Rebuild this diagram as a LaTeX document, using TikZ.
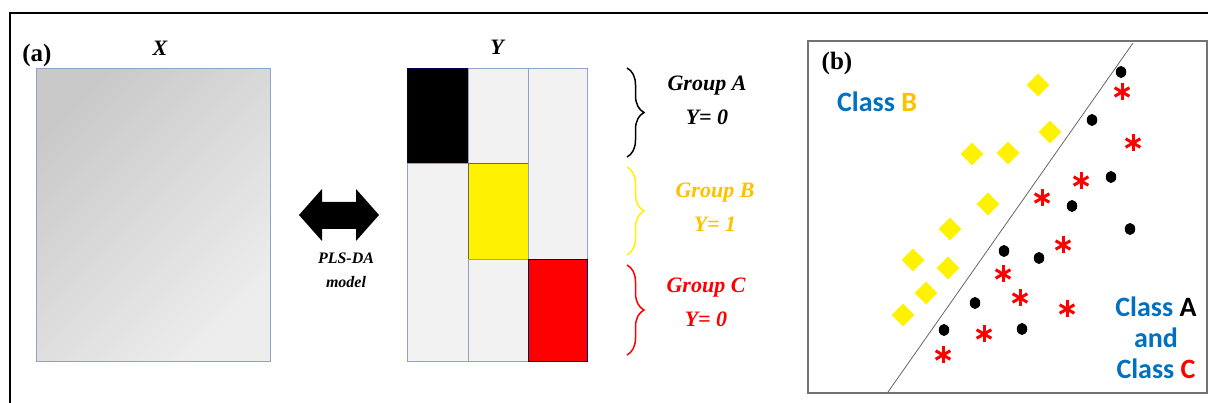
\documentclass[tikz,border=0pt]{standalone}
\usepackage{fontspec}
\setmainfont{Liberation Serif}
\newfontfamily\classfont{Carlito}
\usepackage{tikz}
\usetikzlibrary{positioning, calc, shapes.geometric, decorations.pathreplacing}
\usepackage{xcolor}
\definecolor{cellgray}{HTML}{F2F2F2}
\definecolor{cellline}{HTML}{8EA2CC}
\definecolor{classblue}{HTML}{0070C0}
\definecolor{classorange}{HTML}{FFC000}

\begin{document}
\begin{tikzpicture}[x=1pt, y=-1pt,
  cell/.style={draw=cellline, line width=0.9pt, fill=cellgray, inner sep=0pt, anchor=north west},
  lbl/.style={font=\fontsize{25}{28}\selectfont\bfseries},
  mat/.style={font=\fontsize{22}{26}\selectfont\bfseries\itshape},
  grp/.style={font=\fontsize{22}{34}\selectfont\bfseries\itshape, align=center},
  bracepath/.style={decorate, decoration={brace, amplitude=17pt, aspect=0.5}, line width=1.5pt},
  cls/.style={font=\classfont\fontsize{28}{31}\selectfont\bfseries, text=classblue, align=center},
  dia/.style={diamond, fill=yellow, inner sep=0pt, minimum size=23pt},
  dot/.style={ellipse, fill=black, inner sep=0pt, minimum width=10.5pt, minimum height=12pt},
  ast/.style={red, line width=3pt}]
  \useasboundingbox (0,0) rectangle (1208,403);

  % outer frame
  \draw[line width=2pt] (10,403) -- (10,13) -- (1208,13);

  % Panel (a): data matrix X
  \node[lbl] (pa) at (37,55) {(a)};
  \node[cell, draw=cellline, top color=black!21, bottom color=black!7, shading angle=45,
        minimum width=234pt, minimum height=293pt] (xbox) at (36,68) {};
  \node[mat] (xlab) at (160,48) {X};

  % PLS-DA double arrow
  \fill[black] (299,215) -- (322,189) -- (322,202) -- (356,202) -- (356,189) -- (379,215)
    -- (356,241) -- (356,229) -- (322,229) -- (322,241) -- cycle;
  \node[font=\fontsize{16}{24}\selectfont\bfseries\itshape, align=center] (model) at (346,270) {PLS-DA\\model};

  % Panel (a): response matrix Y
  \node[mat] (ylab) at (497,47) {Y};
  \node[cell, fill=black, draw=black!70!blue, minimum width=61pt, minimum height=95pt] (y11) at (407,68) {};
  \node[cell, minimum width=61pt, minimum height=198pt] (y21) at (407,163) {};
  \node[cell, minimum width=60pt, minimum height=95pt] (y12) at (468,68) {};
  \node[cell, fill=yellow, draw=black!60, minimum width=60pt, minimum height=96pt] (y22) at (468,163) {};
  \node[cell, minimum width=60pt, minimum height=102pt] (y32) at (468,259) {};
  \node[cell, minimum width=59pt, minimum height=191pt] (y13) at (528,68) {};
  \node[cell, fill=red, draw=black!60!blue, minimum width=59pt, minimum height=102pt] (y33) at (528,259) {};

  % group braces
  \coordinate (ba1) at (627,68);  \coordinate (ba2) at (627,157);
  \coordinate (bb1) at (627,167); \coordinate (bb2) at (627,255);
  \coordinate (bc1) at (627,265); \coordinate (bc2) at (627,355);
  \draw[bracepath, black] (ba1) -- (ba2);
  \draw[bracepath, yellow] (bb1) -- (bb2);
  \draw[bracepath, red] (bc1) -- (bc2);
  \node[grp] (ga) at (707,100) {Group A\\Y= 0};
  \node[grp, text=classorange] (gb) at (715,207) {Group B\\Y= 1};
  \node[grp, text=red] (gc) at (706,302) {Group C\\Y= 0};

  % Panel (b): class separation
  \draw[black!55, line width=1.2pt] (808,41) rectangle (1207,393);
  \node[lbl] (pb) at (837,63) {(b)};
  \coordinate (sep1) at (888,392);
  \coordinate (sep2) at (1133,43);
  \draw[black!60, line width=0.8pt] (sep1) -- (sep2);

  \foreach \p [count=\i] in {(1038,85),(1050,132),(972,154),(1008,153),(988,204),
                             (950,229),(913,260),(948,268),(926,293),(903,315)}
    \node[dia] (d\i) at \p {};
  \foreach \p [count=\i] in {(1121,72),(1092,120),(1111,177),(1072,206),(1130,229),
                             (1004,251),(1039,258),(975,303),(1022,329),(944,330)}
    \node[dot] (k\i) at \p {};
  \foreach \p [count=\i] in {(1122,92),(1133,143),(1081,181),(1042,198),(1063,245),
                             (1003,274),(1020,298),(1067,309),(984,334),(943,355)}
    \node[coordinate] (s\i) at \p {};
  \foreach \i in {1,...,10}
    \foreach \a in {90,30,150}
      \draw[ast] (s\i) ++(\a:8.5) -- ++(\a+180:17);

  \node[cls] (clsb) at (877,102) {Class \textcolor{classorange}{B}};
  \node[cls] (clsac) at (1156,338) {Class \textcolor{black}{A}\\and\\Class \textcolor{red}{C}};
\end{tikzpicture}
\end{document}
